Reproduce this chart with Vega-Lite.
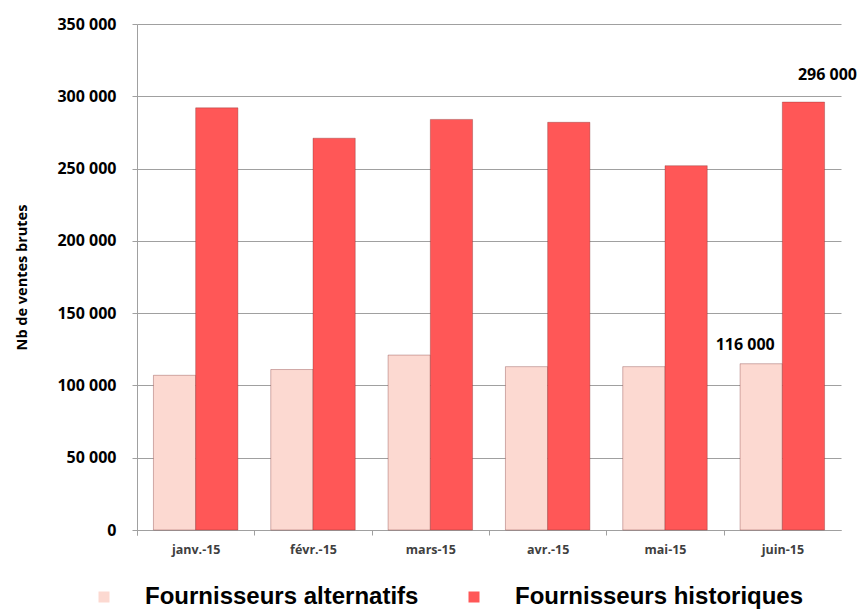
{
  "$schema": "https://vega.github.io/schema/vega-lite/v6.json",
  "width": 704,
  "height": 506,
  "autosize": {"type": "none"},
  "padding": {"left": 137, "top": 24, "right": 23, "bottom": 79},
  "background": "white",
  "config": {
    "locale": {"number": {"decimal": ",", "thousands": " ", "grouping": [3], "currency": ["", " €"]}},
    "view": {"stroke": null},
    "font": "Open Sans"
  },
  "data": {
    "values": [
      {"month": "janv.-15", "series": "Fournisseurs alternatifs", "value": 107000},
      {"month": "janv.-15", "series": "Fournisseurs historiques", "value": 292000},
      {"month": "févr.-15", "series": "Fournisseurs alternatifs", "value": 111000},
      {"month": "févr.-15", "series": "Fournisseurs historiques", "value": 271000},
      {"month": "mars-15", "series": "Fournisseurs alternatifs", "value": 121000},
      {"month": "mars-15", "series": "Fournisseurs historiques", "value": 284000},
      {"month": "avr.-15", "series": "Fournisseurs alternatifs", "value": 113000},
      {"month": "avr.-15", "series": "Fournisseurs historiques", "value": 282000},
      {"month": "mai-15", "series": "Fournisseurs alternatifs", "value": 113000},
      {"month": "mai-15", "series": "Fournisseurs historiques", "value": 252000},
      {"month": "juin-15", "series": "Fournisseurs alternatifs", "value": 115000, "label": "116 000"},
      {"month": "juin-15", "series": "Fournisseurs historiques", "value": 296000, "label": "296 000"}
    ]
  },
  "encoding": {
    "x": {
      "field": "month",
      "type": "nominal",
      "sort": ["janv.-15", "févr.-15", "mars-15", "avr.-15", "mai-15", "juin-15"],
      "scale": {"paddingInner": 0.28, "paddingOuter": 0.14},
      "axis": {
        "title": null,
        "labelAngle": 0,
        "labelFont": "Open Sans",
        "labelFontSize": 12.5,
        "labelFontWeight": "bold",
        "labelColor": "#404040",
        "labelPadding": 8,
        "domainColor": "#a0a0a0",
        "tickColor": "#a0a0a0",
        "tickSize": 5,
        "bandPosition": 0,
        "tickOffset": -16.4,
        "labelOffset": 16.4,
        "tickExtra": true
      }
    },
    "y": {
      "field": "value",
      "type": "quantitative",
      "scale": {"domain": [0, 350000]},
      "axis": {
        "title": "Nb de ventes brutes",
        "titleFont": "Open Sans",
        "titleFontSize": 14.5,
        "titleFontWeight": "bold",
        "titleColor": "#000000",
        "titlePadding": 27,
        "values": [0, 50000, 100000, 150000, 200000, 250000, 300000, 350000],
        "format": ",d",
        "labelFont": "Open Sans",
        "labelFontSize": 16,
        "labelFontWeight": "bold",
        "labelColor": "#000000",
        "labelPadding": 16,
        "gridColor": "#a0a0a0",
        "domainColor": "#a0a0a0",
        "tickColor": "#a0a0a0",
        "tickSize": 5
      }
    }
  },
  "layer": [
    {
      "mark": {"type": "bar", "strokeWidth": 1, "stroke": "#7a2a2a", "strokeOpacity": 0.35},
      "encoding": {
        "xOffset": {"field": "series", "type": "nominal", "scale": {"paddingInner": 0, "paddingOuter": 0}},
        "color": {
          "field": "series",
          "type": "nominal",
          "scale": {"domain": ["Fournisseurs alternatifs", "Fournisseurs historiques"], "range": ["#fcd9d1", "#ff5757"]},
          "legend": {
            "title": null,
            "orient": "none",
            "direction": "horizontal",
            "legendX": -45,
            "legendY": 561,
            "symbolType": "square",
            "symbolSize": 121,
            "symbolStrokeWidth": 0,
            "labelFont": "Liberation Sans",
            "labelFontSize": 24,
            "labelFontWeight": "bold",
            "labelColor": "#000000",
            "labelOffset": 29,
            "columnPadding": 43,
            "labelLimit": 400,
            "encode": {
              "symbols": {
                "update": {
                  "fill": [
                    {"test": "datum.value === 'Fournisseurs historiques'", "value": "#ff0000"},
                    {"value": "#fbd0c8"}
                  ],
                  "opacity": {"value": 1}
                }
              }
            }
          }
        }
      }
    },
    {
      "transform": [{"filter": "datum.series === 'Fournisseurs alternatifs' && datum.label"}],
      "mark": {"type": "text", "baseline": "bottom", "align": "center", "dx": -16, "dy": -11, "font": "Open Sans", "fontSize": 16, "fontWeight": "bold", "color": "#000000"},
      "encoding": {
        "xOffset": {"datum": "Fournisseurs alternatifs", "type": "nominal"},
        "text": {"field": "label"}
      }
    },
    {
      "transform": [{"filter": "datum.series === 'Fournisseurs historiques' && datum.label"}],
      "mark": {"type": "text", "baseline": "bottom", "align": "center", "dx": 24, "dy": -19, "font": "Open Sans", "fontSize": 16, "fontWeight": "bold", "color": "#000000"},
      "encoding": {
        "xOffset": {"datum": "Fournisseurs historiques", "type": "nominal"},
        "text": {"field": "label"}
      }
    }
  ]
}
